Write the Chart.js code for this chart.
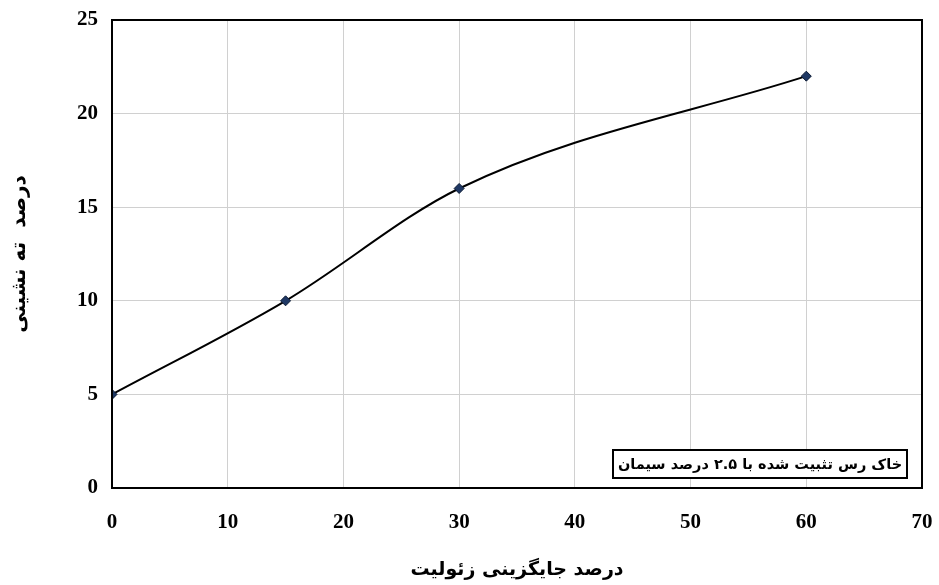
<!DOCTYPE html>
<html><head><meta charset="utf-8">
<script src="https://cdn.jsdelivr.net/npm/chart.js@4"></script>
<style>body{margin:0;background:#fff}#wrap{width:939px;height:585px}</style>
</head><body><div id="wrap"><canvas id="c"></canvas></div>
<script>
const xValues = [0, 15, 30, 60];
const settlement = [5, 10, 16, 22];
const seriesLabel = "خاک رس تثبیت شده با ۲.۵ درصد سیمان";
const xTitle = "درصد جایگزینی زئولیت";
const yTitle = "درصد  ته نشینی";

const font = "'Liberation Serif', 'DejaVu Serif', serif";

const legendBox = {
  id: "legendBox",
  afterDraw(chart) {
    const { ctx, chartArea: a } = chart;
    const w = 294, h = 28;
    const x = a.right - 15 - w, y = a.bottom - 38;
    ctx.save();
    ctx.fillStyle = "#fff";
    ctx.fillRect(x, y, w, h);
    ctx.strokeStyle = "#000";
    ctx.lineWidth = 2;
    ctx.strokeRect(x, y, w, h);
    ctx.fillStyle = "#000";
    ctx.font = "bold 14.5px 'DejaVu Sans', sans-serif";
    ctx.textAlign = "center";
    ctx.textBaseline = "middle";
    ctx.direction = "rtl";
    ctx.fillText(seriesLabel, x + w / 2, y + h / 2 + 1);
    ctx.restore();
  }
};
const frame = {
  id: "frame",
  afterDatasetsDraw(chart) {
    const { ctx, chartArea: a } = chart;
    ctx.save();
    ctx.strokeStyle = "#000";
    ctx.lineWidth = 2;
    ctx.strokeRect(a.left, a.top, a.right - a.left, a.bottom - a.top);
    ctx.restore();
  }
};

new Chart(document.getElementById("c"), {
  type: "line",
  data: {
    datasets: [{
      label: seriesLabel,
      data: xValues.map((x, i) => ({ x, y: settlement[i] })),
      borderColor: "#000",
      borderWidth: 2,
      cubicInterpolationMode: "monotone",
      pointStyle: "rectRot",
      pointRadius: 5,
      pointBackgroundColor: "#1f3864",
      pointBorderColor: "#0b1a33",
      pointBorderWidth: 1
    }]
  },
  options: {
    responsive: true,
    maintainAspectRatio: false,
    animation: false,
    layout: { padding: { top: 20, right: 17, bottom: 0, left: 4 } },
    plugins: { legend: { display: false }, tooltip: { enabled: false } },
    scales: {
      x: {
        type: "linear", min: 0, max: 70,
        ticks: { stepSize: 10, color: "#000", font: { family: font, size: 21, weight: "bold" }, padding: 22 },
        grid: { color: "#d0d0d0", drawTicks: false },
        border: { display: false },
        afterFit(s) { s.height = 97; s.paddingLeft = 0; s.paddingRight = 0; },
        title: { display: true, text: xTitle, color: "#000", font: { family: "'DejaVu Sans', sans-serif", size: 19, weight: "bold" }, padding: { top: 12, bottom: 4 } }
      },
      y: {
        min: 0, max: 25,
        ticks: { stepSize: 5, color: "#000", font: { family: font, size: 21, weight: "bold" }, padding: 14 },
        grid: { color: "#d0d0d0", drawTicks: false },
        border: { display: false },
        afterFit(s) { s.width = 108; s.paddingTop = 0; s.paddingBottom = 0; },
        title: { display: true, text: yTitle, color: "#000", font: { family: "'DejaVu Sans', sans-serif", size: 20, weight: "bold" }, padding: { bottom: 12 } }
      }
    }
  },
  plugins: [frame, legendBox]
});
</script></body></html>
